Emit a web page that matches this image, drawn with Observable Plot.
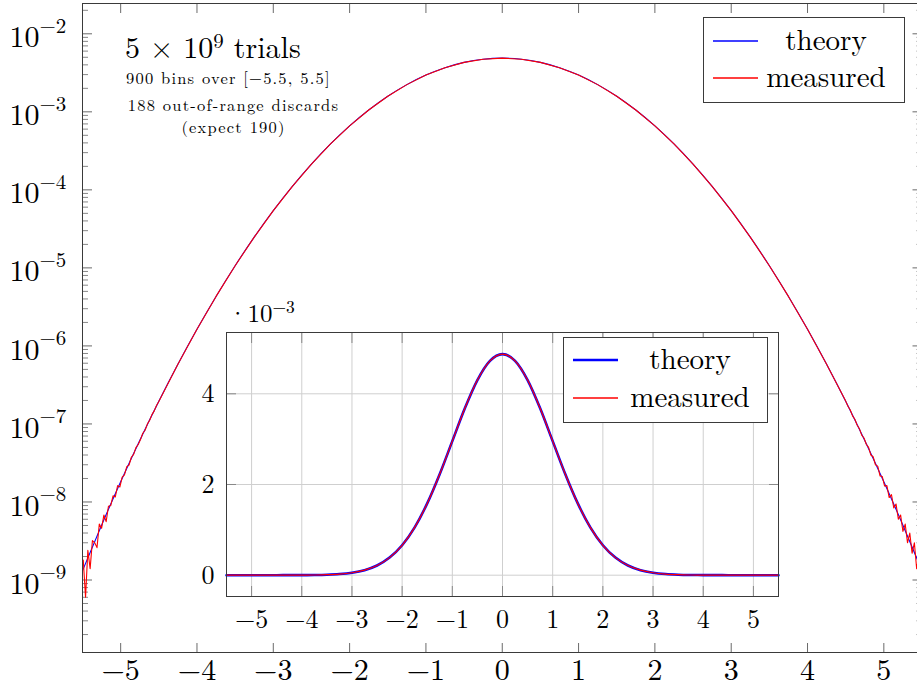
<!DOCTYPE html>
<html><head><meta charset="utf-8">
<script src="https://cdn.jsdelivr.net/npm/d3@7"></script>
<script src="https://cdn.jsdelivr.net/npm/@observablehq/plot@0.6"></script>
<style>
body{margin:0;background:#fff;}
#wrap{position:relative;width:917px;height:689px;overflow:hidden;font-family:"Latin Modern Roman","CMU Serif","Liberation Serif",serif;color:#000;}
#wrap > svg{position:absolute;left:0;top:0;}
.ann{position:absolute;white-space:nowrap;line-height:1;color:#000;}
.ann sup{font-size:0.7em;vertical-align:0.5em;line-height:0;}
</style></head><body><div id="wrap"></div>
<script>
// ---- data ----
const xTheory = [-5.5,-5.25,-5,-4.75,-4.5,-4.25,-4,-3.75,-3.5,-3.25,-3,-2.75,-2.5,-2.25,-2,-1.75,-1.5,-1.25,-1,-0.75,-0.5,-0.25,0,
  0.25,0.5,0.75,1,1.25,1.5,1.75,2,2.25,2.5,2.75,3,3.25,3.5,3.75,4,4.25,4.5,4.75,5,5.25,5.5];
const theory = [1.316e-9,5.045e-9,1.817e-8,6.148e-8,1.954e-7,5.831e-7,1.636e-6,4.310e-6,1.067e-5,2.479e-5,5.417e-5,1.111e-4,2.142e-4,3.879e-4,6.599e-4,1.0545e-3,1.583e-3,2.232e-3,2.957e-3,3.681e-3,4.303e-3,4.726e-3,4.876e-3,
  4.726e-3,4.303e-3,3.681e-3,2.957e-3,2.232e-3,1.583e-3,1.0545e-3,6.599e-4,3.879e-4,2.142e-4,1.111e-4,5.417e-5,2.479e-5,1.067e-5,4.310e-6,1.636e-6,5.831e-7,1.954e-7,6.148e-8,1.817e-8,5.045e-9,1.316e-9];
const measuredLeftX = [-5.49,-5.46,-5.43,-5.40,-5.37,-5.34,-5.31,-5.28,-5.25,-5.22,-5.19,-5.16,-5.13,-5.10,-5.07,-5.04,-5.01,-4.98,-4.95,-4.92,-4.89,-4.86,-4.83,-4.80,-4.77,-4.74,-4.71,-4.68,-4.65,-4.62,-4.59,-4.56,-4.53,-4.50];
const measuredLeft = [1.8e-9,6.0e-10,2.4e-9,1.4e-9,3.2e-9,3.0e-9,2.6e-9,5.2e-9,4.6e-9,6.8e-9,5.6e-9,8.8e-9,9.0e-9,1.2e-8,1.16e-8,1.62e-8,1.56e-8,2.08e-8,2.22e-8,2.84e-8,2.98e-8,3.74e-8,4.08e-8,4.98e-8,5.46e-8,6.3e-8,7.6e-8,8.3e-8,9.96e-8,1.118e-7,1.318e-7,1.472e-7,1.726e-7,1.938e-7];
const measuredRightX = [4.50,4.53,4.56,4.59,4.62,4.65,4.68,4.71,4.74,4.77,4.80,4.83,4.86,4.89,4.92,4.95,4.98,5.01,5.04,5.07,5.10,5.13,5.16,5.19,5.22,5.25,5.28,5.31,5.34,5.37,5.40,5.43,5.46,5.49];
const measuredRight = [1.962e-7,1.69e-7,1.512e-7,1.27e-7,1.148e-7,9.7e-8,8.7e-8,7.2e-8,6.6e-8,5.5e-8,5.0e-8,4.0e-8,3.8e-8,3.0e-8,2.88e-8,2.16e-8,2.12e-8,1.6e-8,1.62e-8,1.14e-8,1.24e-8,8.4e-9,9.4e-9,6.0e-9,6.8e-9,4.2e-9,5.2e-9,3.0e-9,4.0e-9,2.2e-9,3.0e-9,1.4e-9,2.0e-9,8.0e-10];
const xTicks = [-5,-4,-3,-2,-1,0,1,2,3,4,5];
const yMajor = [1e-9,1e-8,1e-7,1e-6,1e-5,1e-4,1e-3,1e-2];
const yMajorExp = ["−9","−8","−7","−6","−5","−4","−3","−2"];
const minorMult = [2,3,4,5,6,7,8,9];
const minorDecades = [1e-10,1e-9,1e-8,1e-7,1e-6,1e-5,1e-4,1e-3,1e-2];
const insetYTicks = [0,0.002,0.004];
const insetYLabels = ["0","2","4"];

// ---- tables ----
const theoryData = xTheory.map((x,i)=>({x, p: theory[i]}));
const measuredData = [
  ...measuredLeftX.map((x,i)=>({x, p: measuredLeft[i]})),
  ...theoryData.filter(d=>Math.abs(d.x)<=4.25),
  ...measuredRightX.map((x,i)=>({x, p: measuredRight[i]}))
];
const yDomain = [Math.pow(10,-9.929), Math.pow(10,-1.6117)];
const yMinor = minorDecades.flatMap(d=>minorMult.map(m=>m*d)).filter(v=>v>=yDomain[0]&&v<=yDomain[1]);

const F = '"Latin Modern Roman", "CMU Serif", "Liberation Serif", serif';
const TK = "#6a6a6a";
const wrap = document.getElementById("wrap");

const main = Plot.plot({
  width: 917, height: 689,
  marginLeft: 82, marginRight: -4.5, marginTop: 3, marginBottom: 37,
  style: {fontFamily: F, background: "transparent", color: "#000", overflow: "visible"},
  x: {domain: [-5.5, 5.5]},
  y: {type: "log", domain: yDomain},
  marks: [
    Plot.axisX(xTicks, {anchor: "bottom", tickSize: 9, dy: -9, fill: "none", stroke: TK, label: null}),
    Plot.axisX(xTicks, {anchor: "top", tickSize: 9, dy: 9, fill: "none", stroke: TK, label: null}),
    Plot.axisY(yMajor, {anchor: "left", tickSize: 10, dx: 10, fill: "none", stroke: TK, label: null}),
    Plot.axisY(yMajor, {anchor: "right", tickSize: 10, dx: -10, fill: "none", stroke: TK, label: null}),
    Plot.axisY(yMinor, {anchor: "left", tickSize: 6, dx: 6, fill: "none", stroke: TK, strokeWidth: 0.8, label: null}),
    Plot.axisY(yMinor, {anchor: "right", tickSize: 6, dx: -6, fill: "none", stroke: TK, strokeWidth: 0.8, label: null}),
    Plot.axisX(xTicks, {anchor: "bottom", tickSize: 0, tickPadding: 6, fontSize: 30, label: null, fill: "#000"}),
    Plot.text(yMajor, {y: d=>d, frameAnchor: "left", text: ()=>"10", textAnchor: "end", dx: -43, dy: 4, fontSize: 30, fill: "#000"}),
    Plot.text(yMajor, {y: d=>d, frameAnchor: "left", text: (d,i)=>yMajorExp[i], textAnchor: "start", dx: -43, dy: -8, fontSize: 21, fill: "#000"}),
    Plot.line(theoryData, {x: "x", y: "p", stroke: "#0000ff", strokeWidth: 1.1, curve: "monotone-x", clip: true}),
    Plot.line(measuredData, {x: "x", y: "p", stroke: "#ff0000", strokeWidth: 1.1, clip: true}),
    Plot.frame({stroke: "#3a3a3a", strokeWidth: 1})
  ]
});
wrap.appendChild(main);

const inset = Plot.plot({
  width: 917, height: 689,
  marginLeft: 226, marginRight: 139, marginTop: 332, marginBottom: 93,
  style: {fontFamily: F, background: "transparent", color: "#000", overflow: "visible"},
  x: {domain: [-5.5, 5.5]},
  y: {domain: [-0.00047, 0.005352]},
  marks: [
    Plot.frame({fill: "white", stroke: null}),
    Plot.gridX(xTicks, {stroke: "#cfcfcf", strokeOpacity: 1}),
    Plot.gridY(insetYTicks, {stroke: "#cfcfcf", strokeOpacity: 1}),
    Plot.axisX(xTicks, {anchor: "bottom", tickSize: 10, dy: -10, fill: "none", stroke: "#888", label: null}),
    Plot.axisX(xTicks, {anchor: "top", tickSize: 10, dy: 10, fill: "none", stroke: "#888", label: null}),
    Plot.axisY(insetYTicks, {anchor: "left", tickSize: 10, dx: 10, fill: "none", stroke: "#888", label: null}),
    Plot.axisY(insetYTicks, {anchor: "right", tickSize: 10, dx: -10, fill: "none", stroke: "#888", label: null}),
    Plot.axisX(xTicks, {anchor: "bottom", tickSize: 0, tickPadding: 13, fontSize: 26, label: null, fill: "#000"}),
    Plot.axisY(insetYTicks, {anchor: "left", tickSize: 0, tickPadding: 12, fontSize: 26, label: null, fill: "#000", tickFormat: (d,i)=>insetYLabels[i]}),
    Plot.line(theoryData, {x: "x", y: "p", stroke: "#0000ff", strokeWidth: 2.6, curve: "monotone-x"}),
    Plot.line(measuredData, {x: "x", y: "p", stroke: "#ff0000", strokeWidth: 1.2, curve: "monotone-x"}),
    Plot.frame({stroke: "#3a3a3a", strokeWidth: 1})
  ]
});
wrap.appendChild(inset);

// legends
const leg = d3.select(wrap).append("svg").attr("width", 917).attr("height", 689)
  .style("position", "absolute").style("left", 0).style("top", 0);
function legend(g, x0, y0, w, h, entries) {
  g.append("rect").attr("x", x0+0.5).attr("y", y0+0.5).attr("width", w).attr("height", h)
    .attr("fill", "white").attr("stroke", "#3a3a3a").attr("stroke-width", 1);
  entries.forEach(e => {
    g.append("line").attr("x1", x0+10).attr("x2", x0+55).attr("y1", e.y).attr("y2", e.y)
      .attr("stroke", e.color).attr("stroke-width", e.sw);
    g.append("text").attr("x", x0 + e.cx).attr("y", e.y).attr("dy", "0.3em")
      .attr("font-family", F).attr("fill", "#000")
      .attr("text-anchor", "middle").attr("font-size", 29).text(e.label);
  });
}
legend(leg, 703, 17, 201, 85, [
  {label: "theory", color: "#0000ff", sw: 1.4, y: 41, cx: 123},
  {label: "measured", color: "#ff0000", sw: 1.3, y: 78, cx: 123}
]);
legend(leg, 563, 337, 204, 85, [
  {label: "theory", color: "#0000ff", sw: 2.6, y: 360, cx: 127},
  {label: "measured", color: "#ff0000", sw: 1.3, y: 398, cx: 127}
]);

// annotations
function ann(html, style) {
  const d = document.createElement("div");
  d.className = "ann"; d.innerHTML = html; Object.assign(d.style, style);
  wrap.appendChild(d);
}
ann("5 × 10<sup>9</sup> trials", {left: "125px", top: "31px", fontSize: "30px"});
ann("900 bins over [−5.5, 5.5]", {left: "126px", top: "69px", fontSize: "16.5px", letterSpacing: "1.2px", height: "16px"});
ann("188 out-of-range discards", {left: "126px", top: "96px", fontSize: "16.5px", letterSpacing: "1.2px", width: "215px", textAlign: "center", height: "16px"});
ann("(expect 190)", {left: "126px", top: "118px", fontSize: "16.5px", letterSpacing: "1.2px", width: "215px", textAlign: "center", height: "16px"});
ann("·10<sup>−3</sup>", {left: "228px", top: "299px", fontSize: "25px"});
</script></body></html>
